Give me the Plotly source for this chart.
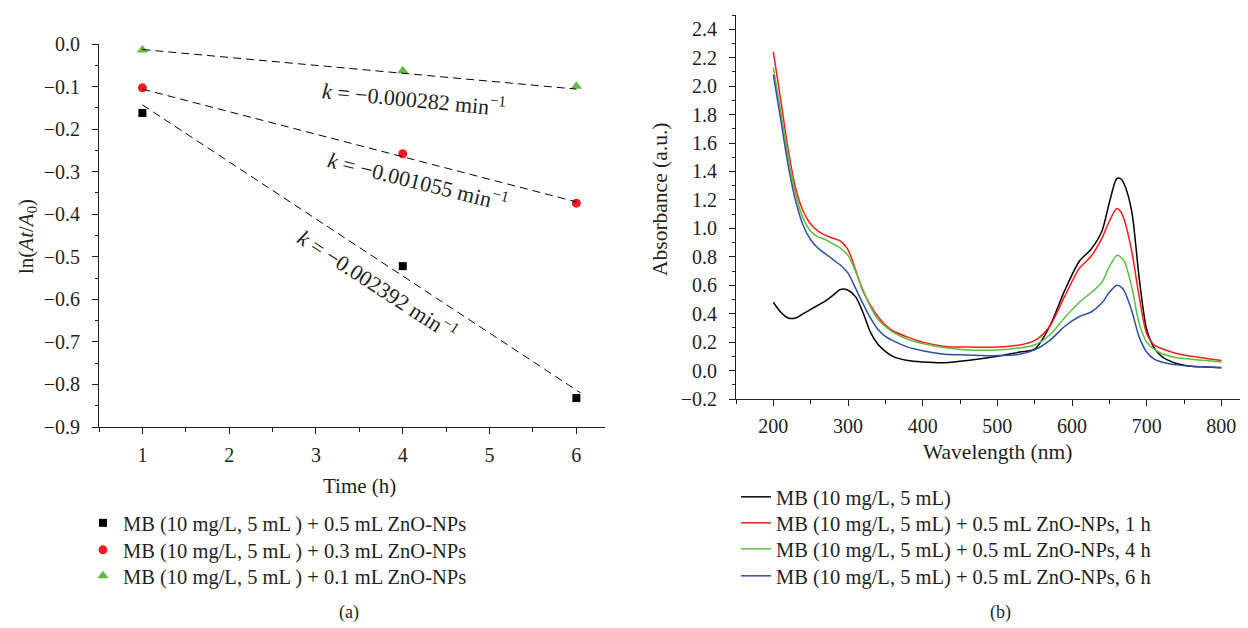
import plotly.graph_objects as go

# ---------------- data: panel (a) ----------------
time_h = [1, 4, 6]
ln_05 = [-0.162, -0.522, -0.832]
ln_03 = [-0.103, -0.258, -0.374]
ln_01 = [-0.014, -0.063, -0.099]
fit_x_05 = [1, 6.05]
fit_y_05 = [-0.143, -0.820]
fit_x = [1, 6]
fit_y_03 = [-0.106, -0.371]
fit_y_01 = [-0.013, -0.106]
labels_a = ["MB (10 mg/L, 5 mL ) + 0.5 mL ZnO-NPs",
            "MB (10 mg/L, 5 mL ) + 0.3 mL ZnO-NPs",
            "MB (10 mg/L, 5 mL ) + 0.1 mL ZnO-NPs"]
k_labels = ["<i>k</i> = −0.000282 min<sup>−1</sup>",
            "<i>k</i> = −0.001055 min<sup>−1</sup>",
            "<i>k</i> = −0.002392 min<sup>−1</sup>"]

# ---------------- data: panel (b) ----------------
wl = [200, 210, 220, 230, 240, 250, 260, 270, 280, 290, 300, 310, 320, 330, 340,
      350, 360, 380, 400, 430, 460, 500, 530, 550, 570, 590, 610, 625, 640, 650,
      660, 665, 670, 680, 690, 700, 710, 720, 740, 760, 780, 800]
abs_mb = [0.48, 0.41, 0.37, 0.37, 0.40, 0.43, 0.46, 0.49, 0.53, 0.57, 0.565, 0.52, 0.41,
          0.27, 0.185, 0.135, 0.10, 0.07, 0.06, 0.055, 0.07, 0.10, 0.13, 0.15, 0.31, 0.56,
          0.77, 0.85, 0.98, 1.18, 1.35, 1.35, 1.31, 1.12, 0.65, 0.29, 0.16, 0.10, 0.05,
          0.03, 0.025, 0.02]
abs_1h = [2.24, 1.90, 1.55, 1.28, 1.12, 1.03, 0.98, 0.95, 0.93, 0.91, 0.85, 0.71, 0.56,
          0.46, 0.38, 0.32, 0.28, 0.235, 0.20, 0.17, 0.165, 0.165, 0.18, 0.21, 0.31, 0.52,
          0.72, 0.80, 0.93, 1.05, 1.14, 1.12, 1.06, 0.84, 0.52, 0.26, 0.18, 0.155, 0.12,
          0.10, 0.085, 0.07]
abs_4h = [2.13, 1.82, 1.50, 1.24, 1.07, 0.98, 0.94, 0.92, 0.89, 0.86, 0.81, 0.70, 0.57,
          0.45, 0.36, 0.31, 0.27, 0.22, 0.19, 0.16, 0.145, 0.145, 0.16, 0.18, 0.25, 0.37,
          0.48, 0.545, 0.62, 0.73, 0.81, 0.80, 0.77, 0.59, 0.33, 0.20, 0.15, 0.12, 0.09,
          0.08, 0.07, 0.06]
abs_6h = [2.08, 1.76, 1.44, 1.19, 1.02, 0.92, 0.86, 0.82, 0.78, 0.74, 0.685, 0.58, 0.47,
          0.37, 0.29, 0.24, 0.21, 0.165, 0.14, 0.115, 0.11, 0.105, 0.115, 0.145, 0.21, 0.31,
          0.38, 0.41, 0.475, 0.55, 0.60, 0.59, 0.56, 0.42, 0.235, 0.13, 0.08, 0.06, 0.04,
          0.03, 0.025, 0.022]
labels_b = ["MB (10 mg/L, 5 mL)",
            "MB (10 mg/L, 5 mL) + 0.5 mL ZnO-NPs, 1 h",
            "MB (10 mg/L, 5 mL) + 0.5 mL ZnO-NPs, 4 h",
            "MB (10 mg/L, 5 mL) + 0.5 mL ZnO-NPs, 6 h"]

# ---------------- layout helpers ----------------
W, H = 1248, 628
FONT = "Liberation Serif"
INK = "#231f20"
LEG_SIZE = 20.5


def px(x):
    return x / W


def py(y):
    return 1 - y / H


fig = go.Figure()
legends = {}

# panel (a) markers -- one single-entry legend per series for exact row spacing
marker_specs = [(ln_05, "square", "#000000", 8),
                (ln_03, "circle", "#ee1c24", 9),
                (ln_01, "triangle-up", "#62bb46", 10)]
rows_a = [523, 550, 576]
for i, ((vals, sym, col, sz), name) in enumerate(zip(marker_specs, labels_a)):
    lname = "legend" if i == 0 else f"legend{i + 1}"
    legends[lname] = dict(x=px(83), y=py(rows_a[i]), xanchor="left", yanchor="middle",
                          bgcolor="rgba(0,0,0,0)", borderwidth=0,
                          font=dict(family=FONT, size=LEG_SIZE, color=INK))
    fig.add_trace(go.Scatter(x=time_h, y=vals, mode="markers", name=name,
                             marker=dict(symbol=sym, color=col, size=sz),
                             cliponaxis=False, xaxis="x", yaxis="y", legend=lname))
for fx, fy in [(fit_x_05, fit_y_05), (fit_x, fit_y_03), (fit_x, fit_y_01)]:
    fig.add_trace(go.Scatter(x=fx, y=fy, mode="lines", showlegend=False,
                             line=dict(color="#000000", width=1, dash="8px,5px"),
                             cliponaxis=False, xaxis="x", yaxis="y"))

# panel (b) spectra
spec_colors = ["#000000", "#ff1a1a", "#5cbf3a", "#2e4fa3"]
rows_b = [497, 523, 549, 576]
for i, (vals, col, name) in enumerate(zip([abs_mb, abs_1h, abs_4h, abs_6h], spec_colors, labels_b)):
    lname = f"legend{i + 4}"
    legends[lname] = dict(x=px(736), y=py(rows_b[i]), xanchor="left", yanchor="middle",
                          bgcolor="rgba(0,0,0,0)", borderwidth=0,
                          font=dict(family=FONT, size=LEG_SIZE, color=INK))
    fig.add_trace(go.Scatter(x=wl, y=vals, mode="lines", name=name,
                             line=dict(color=col, width=1.5, shape="spline", smoothing=0.8),
                             xaxis="x2", yaxis="y2", legend=lname))

axis_common = dict(showline=True, linecolor=INK, linewidth=1, ticks="outside",
                   ticklen=6, tickwidth=1, tickcolor=INK, showgrid=False, zeroline=False,
                   automargin=False,
                   tickfont=dict(family=FONT, size=20, color=INK), mirror=False)

fig.update_layout(
    width=W, height=H, margin=dict(l=0, r=0, t=0, b=0, autoexpand=False),
    paper_bgcolor="white", plot_bgcolor="white",
    font=dict(family=FONT, color=INK),
    xaxis=dict(domain=[px(99), px(605)], range=[0.5, 6.33], anchor="y",
               tickvals=[1, 2, 3, 4, 5, 6], ticklabelstandoff=4,
               minor=dict(ticks="outside", dtick=0.5, tick0=0.5, ticklen=3.5, tickcolor=INK),
               **axis_common),
    yaxis=dict(domain=[py(427), py(44)], range=[-0.9, 0.0], anchor="x",
               dtick=0.1, tickformat=".1f", ticklabelstandoff=8,
               minor=dict(ticks="outside", dtick=0.05, ticklen=3.5, tickcolor=INK),
               **axis_common),
    xaxis2=dict(domain=[px(736), px(1240)], range=[150, 825], anchor="y2",
                dtick=100, tick0=0, ticklabelstandoff=3,
                minor=dict(ticks="outside", dtick=50, ticklen=3.5, tickcolor=INK),
                **axis_common),
    yaxis2=dict(domain=[py(399), py(15)], range=[-0.2, 2.5], anchor="x2",
                tickvals=[-0.2, 0, 0.2, 0.4, 0.6, 0.8, 1.0, 1.2, 1.4, 1.6, 1.8, 2.0, 2.2, 2.4],
                tickformat=".1f", ticklabelstandoff=8,
                minor=dict(ticks="outside", dtick=0.1, tick0=0, ticklen=3.5, tickcolor=INK),
                **axis_common),
    showlegend=True,
    **legends,
)

annots = [
    # axis titles
    dict(text="Time (h)", x=px(360), y=py(486), textangle=0, size=21),
    dict(text="ln(<i>At</i>/<i>A</i><sub>0</sub>)", x=px(27), y=py(237), textangle=-90, size=21),
    dict(text="Wavelength (nm)", x=px(997), y=py(452), textangle=0, size=21.5),
    dict(text="Absorbance (a.u.)", x=px(660), y=py(200), textangle=-90, size=21.5),
    # rate constant labels
    dict(text=k_labels[0], x=px(414), y=py(98), textangle=5.5, size=22),
    dict(text=k_labels[1], x=px(418), y=py(180), textangle=14, size=22),
    dict(text=k_labels[2], x=px(378), y=py(284), textangle=33, size=22),
    # panel labels
    dict(text="(a)", x=px(349), y=py(612), textangle=0, size=18),
    dict(text="(b)", x=px(1000), y=py(612), textangle=0, size=18),
]
for a in annots:
    fig.add_annotation(text=a["text"], x=a["x"], y=a["y"], xref="paper", yref="paper",
                       xanchor="center", yanchor="middle", showarrow=False,
                       textangle=a["textangle"],
                       font=dict(family=FONT, size=a["size"], color=INK))

fig.write_html("out.html", config={"displayModeBar": False},
               post_script="document.body.style.margin='0px';document.body.style.overflow='hidden';")
